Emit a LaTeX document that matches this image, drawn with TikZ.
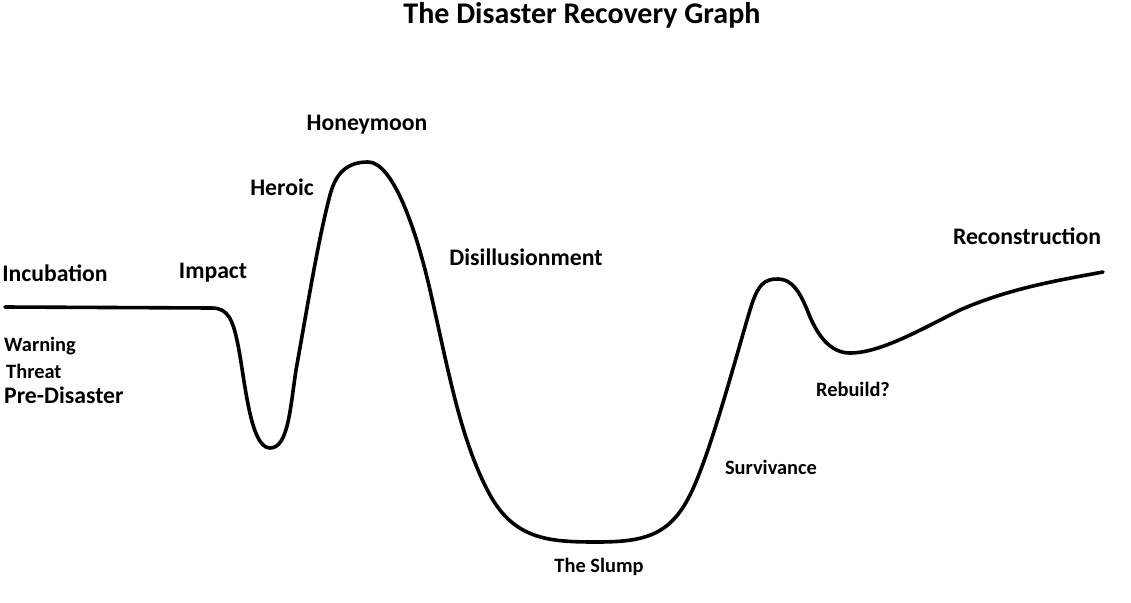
\documentclass[tikz,border=0pt]{standalone}
\usepackage{fontspec}
\setmainfont{Carlito}
\begin{document}
\begin{tikzpicture}[x=1pt,y=-1pt,
  lbl/.style={font=\bfseries\fontsize{23.7}{26}\selectfont,inner sep=0pt},
  small/.style={font=\bfseries\fontsize{20.4}{23}\selectfont,inner sep=0pt},
  curve/.style={line width=3.6pt,line cap=round,line join=round}]
\useasboundingbox (0,0) rectangle (1131,602);
\node[font=\bfseries\fontsize{30}{34}\selectfont,inner sep=0pt] (title) at (582,15) {The Disaster Recovery Graph};
\node[lbl] (honey) at (367,125) {Honeymoon};
\node[lbl] (heroic) at (282,187) {Heroic};
\node[lbl] (disill) at (526,257) {Disillusionment};
\node[lbl] (incub) at (55,273) {Incubation};
\node[lbl] (impact) at (213,273) {Impact};
\node[small,anchor=west] (warn) at (4,346) {Warning};
\node[small,anchor=west] (threat) at (6,371) {Threat};
\node[lbl,anchor=west] (pre) at (4,395) {Pre-Disaster};
\node[small] (slump) at (599,567) {The Slump};
\node[small] (surv) at (771,467) {Survivance};
\node[small] (rebuild) at (853,389) {Rebuild?};
\node[lbl] (recon) at (1027,236) {Reconstruction};
\draw[curve] (5,307) -- (212,308)
  .. controls (228,308) and (233,320) .. (238,345)
  .. controls (245,380) and (250,448) .. (270,448)
  .. controls (288,448) and (290,410) .. (296,370)
  .. controls (306,315) and (318,240) .. (330,195)
  .. controls (336,172) and (348,162) .. (368,162)
  .. controls (392,162) and (415,225) .. (430,290)
  .. controls (448,368) and (460,440) .. (490,495)
  .. controls (515,540) and (550,542) .. (597,542)
  .. controls (645,542) and (670,535) .. (690,495)
  .. controls (710,455) and (735,360) .. (750,310)
  .. controls (758,283) and (765,279) .. (778,279)
  .. controls (792,279) and (800,292) .. (808,312)
  .. controls (817,335) and (830,353) .. (850,353)
  .. controls (880,353) and (920,330) .. (960,310)
  .. controls (1010,288) and (1060,280) .. (1103,272);
\end{tikzpicture}
\end{document}
